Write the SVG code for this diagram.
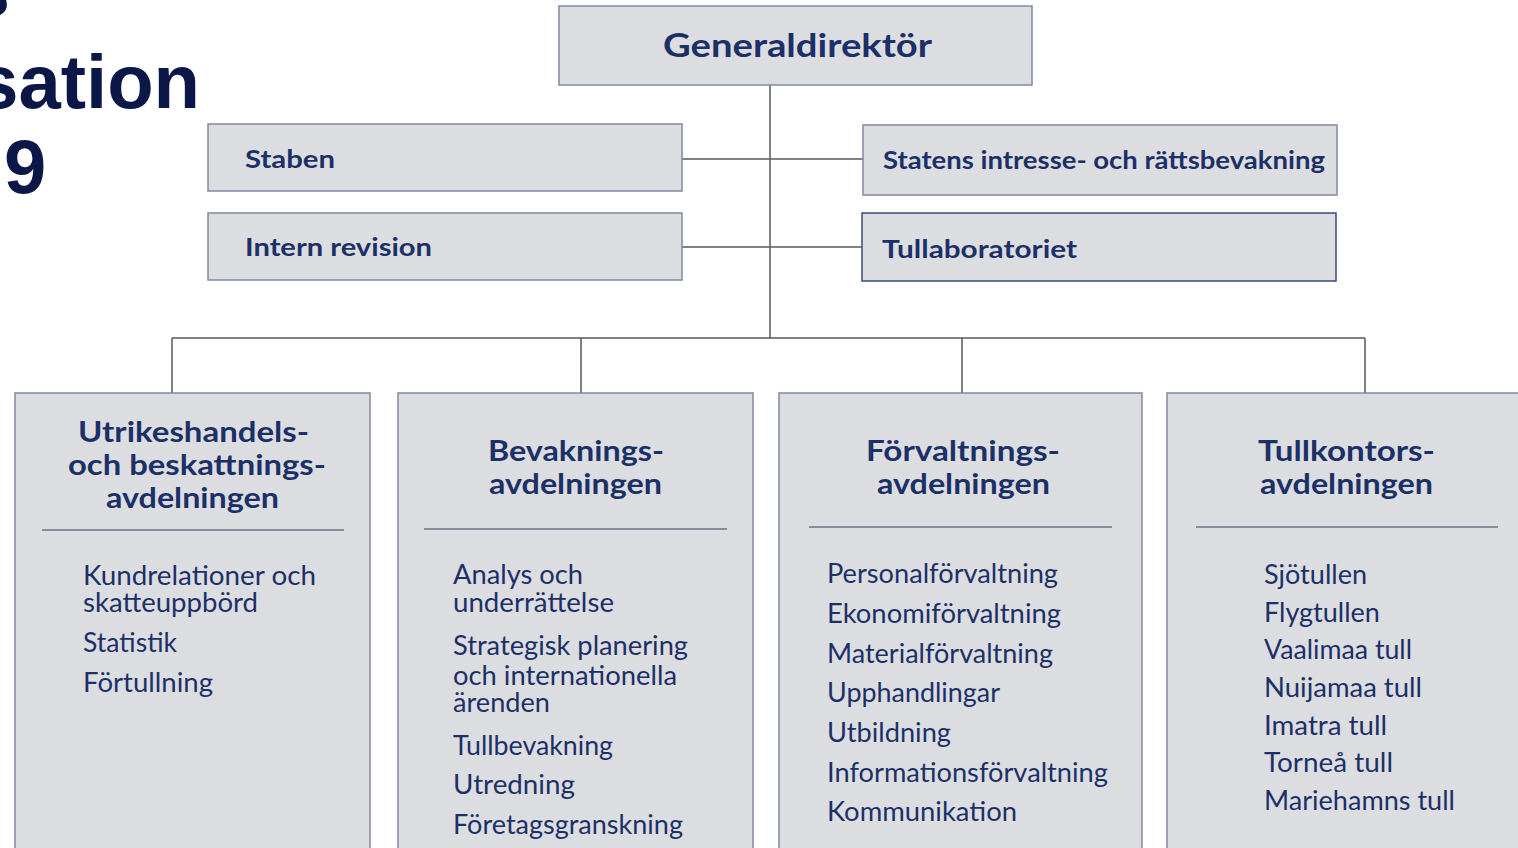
<svg xmlns="http://www.w3.org/2000/svg" width="1518" height="848" viewBox="0 0 1518 848">
<style>
.title{font-family:"Liberation Sans",Arial,sans-serif;font-weight:bold;font-size:76px;fill:#0b1747}
.box{fill:#dcdde0;stroke:#8189a0;stroke-width:1.5}
.boxd{fill:#dcdde0;stroke:#3a4a78;stroke-width:1.5}
.con{stroke:#55585f;stroke-width:1.5;fill:none}
.sep{stroke:#6a7388;stroke-width:1.5}
.h{font-family:Lato,"Open Sans",sans-serif;font-weight:bold;fill:#1c3068}
.hb{font-size:32px}
.hs{font-size:25px}
.hd{font-size:29px;text-anchor:middle}
.it{font-family:Lato,"Open Sans",sans-serif;font-size:27px;fill:#1c3068}
</style>
<rect width="1518" height="848" fill="#ffffff"/>
<g id="title">
<text class="title" x="10" y="16" text-anchor="end">Tullens</text>
<text class="title" x="200" y="108" text-anchor="end">organisation</text>
<text class="title" x="4" y="193">9</text>
</g>
<g id="connectors">
<line class="con" x1="770" y1="85" x2="770" y2="338"/>
<line class="con" x1="682" y1="159" x2="863" y2="159"/>
<line class="con" x1="682" y1="247" x2="862" y2="247"/>
<line class="con" x1="172" y1="338" x2="1365" y2="338"/>
<line class="con" x1="172" y1="338" x2="172" y2="393"/>
<line class="con" x1="581" y1="338" x2="581" y2="393"/>
<line class="con" x1="962" y1="338" x2="962" y2="393"/>
<line class="con" x1="1365" y1="338" x2="1365" y2="393"/>
</g>
<g id="generaldirektor">
<rect class="box" x="559" y="6" width="473" height="79"/>
<text class="h hb" x="663" y="57" textLength="269" lengthAdjust="spacingAndGlyphs">Generaldirektör</text>
</g>
<g id="staben">
<rect class="box" x="208" y="124" width="474" height="67"/>
<text class="h hs" x="245" y="168" textLength="90" lengthAdjust="spacingAndGlyphs">Staben</text>
</g>
<g id="intern-revision">
<rect class="box" x="208" y="213" width="474" height="67"/>
<text class="h hs" x="245" y="256" textLength="187" lengthAdjust="spacingAndGlyphs">Intern revision</text>
</g>
<g id="statens">
<rect class="box" x="863" y="125" width="474" height="70"/>
<text class="h hs" x="883" y="169" textLength="442" lengthAdjust="spacingAndGlyphs">Statens intresse- och rättsbevakning</text>
</g>
<g id="tullaboratoriet">
<rect class="boxd" x="862" y="213" width="474" height="68"/>
<text class="h hs" x="882" y="258" textLength="195" lengthAdjust="spacingAndGlyphs">Tullaboratoriet</text>
</g>
<g id="utrikeshandel">
<rect class="box" x="15" y="393" width="355" height="470"/>
<text class="h hd" x="193.5" y="442" textLength="231" lengthAdjust="spacingAndGlyphs">Utrikeshandels-</text>
<text class="h hd" x="197" y="475" textLength="258" lengthAdjust="spacingAndGlyphs">och beskattnings-</text>
<text class="h hd" x="192.5" y="508" textLength="173" lengthAdjust="spacingAndGlyphs">avdelningen</text>
<line class="sep" x1="42" y1="530" x2="344" y2="530"/>
<text class="it" x="83" y="585" textLength="233" lengthAdjust="spacingAndGlyphs">Kundrelationer och</text>
<text class="it" x="83" y="612" textLength="175" lengthAdjust="spacingAndGlyphs">skatteuppbörd</text>
<text class="it" x="83" y="652" textLength="94" lengthAdjust="spacingAndGlyphs">Statistik</text>
<text class="it" x="83" y="692" textLength="130" lengthAdjust="spacingAndGlyphs">Förtullning</text>
</g>
<g id="bevakning">
<rect class="box" x="398" y="393" width="355" height="470"/>
<text class="h hd" x="576" y="461" textLength="176" lengthAdjust="spacingAndGlyphs">Bevaknings-</text>
<text class="h hd" x="575.5" y="494" textLength="173" lengthAdjust="spacingAndGlyphs">avdelningen</text>
<line class="sep" x1="424" y1="529" x2="727" y2="529"/>
<text class="it" x="453" y="584" textLength="130" lengthAdjust="spacingAndGlyphs">Analys och</text>
<text class="it" x="453" y="612" textLength="161" lengthAdjust="spacingAndGlyphs">underrättelse</text>
<text class="it" x="453" y="655" textLength="235" lengthAdjust="spacingAndGlyphs">Strategisk planering</text>
<text class="it" x="453" y="685" textLength="224" lengthAdjust="spacingAndGlyphs">och internationella</text>
<text class="it" x="453" y="712" textLength="97" lengthAdjust="spacingAndGlyphs">ärenden</text>
<text class="it" x="453" y="755" textLength="160" lengthAdjust="spacingAndGlyphs">Tullbevakning</text>
<text class="it" x="453" y="794" textLength="122" lengthAdjust="spacingAndGlyphs">Utredning</text>
<text class="it" x="453" y="834" textLength="230" lengthAdjust="spacingAndGlyphs">Företagsgranskning</text>
</g>
<g id="forvaltning">
<rect class="box" x="779" y="393" width="363" height="470"/>
<text class="h hd" x="963" y="461" textLength="194" lengthAdjust="spacingAndGlyphs">Förvaltnings-</text>
<text class="h hd" x="963.5" y="494" textLength="173" lengthAdjust="spacingAndGlyphs">avdelningen</text>
<line class="sep" x1="809" y1="527" x2="1112" y2="527"/>
<text class="it" x="827" y="583" textLength="231" lengthAdjust="spacingAndGlyphs">Personalförvaltning</text>
<text class="it" x="827" y="623" textLength="234" lengthAdjust="spacingAndGlyphs">Ekonomiförvaltning</text>
<text class="it" x="827" y="663" textLength="226" lengthAdjust="spacingAndGlyphs">Materialförvaltning</text>
<text class="it" x="827" y="702" textLength="173" lengthAdjust="spacingAndGlyphs">Upphandlingar</text>
<text class="it" x="827" y="742" textLength="124" lengthAdjust="spacingAndGlyphs">Utbildning</text>
<text class="it" x="827" y="782" textLength="281" lengthAdjust="spacingAndGlyphs">Informationsförvaltning</text>
<text class="it" x="827" y="821" textLength="190" lengthAdjust="spacingAndGlyphs">Kommunikation</text>
</g>
<g id="tullkontor">
<rect class="box" x="1167" y="393" width="370" height="470"/>
<text class="h hd" x="1346.5" y="461" textLength="177" lengthAdjust="spacingAndGlyphs">Tullkontors-</text>
<text class="h hd" x="1346.5" y="494" textLength="173" lengthAdjust="spacingAndGlyphs">avdelningen</text>
<line class="sep" x1="1196" y1="527" x2="1498" y2="527"/>
<text class="it" x="1264" y="584" textLength="103" lengthAdjust="spacingAndGlyphs">Sjötullen</text>
<text class="it" x="1264" y="622">Flygtullen</text>
<text class="it" x="1264" y="659" textLength="148" lengthAdjust="spacingAndGlyphs">Vaalimaa tull</text>
<text class="it" x="1264" y="697" textLength="158" lengthAdjust="spacingAndGlyphs">Nuijamaa tull</text>
<text class="it" x="1264" y="735" textLength="123" lengthAdjust="spacingAndGlyphs">Imatra tull</text>
<text class="it" x="1264" y="772" textLength="129" lengthAdjust="spacingAndGlyphs">Torneå tull</text>
<text class="it" x="1264" y="810" textLength="191" lengthAdjust="spacingAndGlyphs">Mariehamns tull</text>
</g>
</svg>
